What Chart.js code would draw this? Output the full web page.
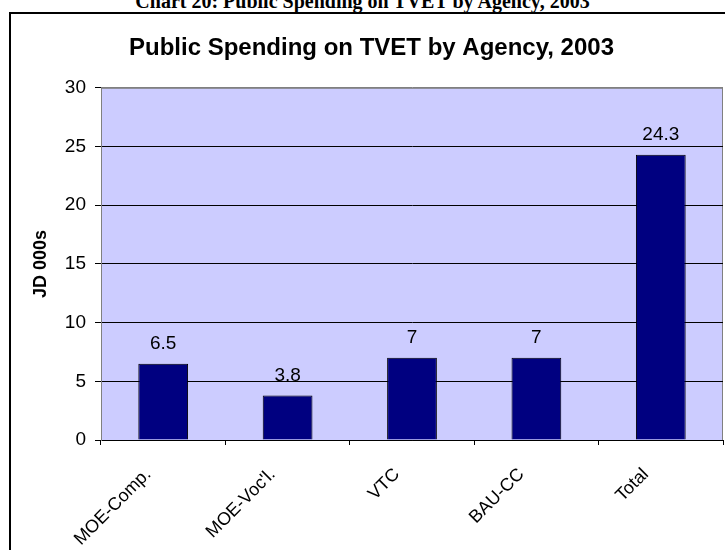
<!DOCTYPE html>
<html>
<head>
<meta charset="utf-8">
<title>Public Spending on TVET by Agency, 2003</title>
<script src="https://cdn.jsdelivr.net/npm/chart.js@4"></script>
<style>
  body { margin: 0; width: 725px; height: 550px; overflow: hidden; background: #fff; position: relative; }
  #caption { position: absolute; left: 0; top: -9px; width: 725px; text-align: center;
             font: bold 20px/20px "Liberation Serif", "Times New Roman", serif; color: #000; white-space: nowrap; }
  #frame { position: absolute; left: 9px; top: 12px; width: 800px; height: 600px; border: 2px solid #000; }
  #wrap { position: absolute; left: 0; top: 0; width: 725px; height: 550px; }
</style>
</head>
<body>
<div id="caption">Chart 20: Public Spending on TVET by Agency, 2003</div>
<div id="frame"></div>
<div id="wrap"><canvas id="spendChart"></canvas></div>
<script>
const categories = ["MOE-Comp.", "MOE-Voc'l.", "VTC", "BAU-CC", "Total"];
const spending = [6.5, 3.8, 7, 7, 24.3];
const yTicks = [0, 5, 10, 15, 20, 25, 30];

const FONT = "'Liberation Sans', Arial, sans-serif";

// lavender plot area with a grey frame, drawn under the grid
const plotArea = {
    id: "plotArea",
    beforeDraw(chart) {
        const { ctx, chartArea: a } = chart;
        ctx.save();
        ctx.fillStyle = "#CCCCFF";
        ctx.fillRect(a.left, a.top, a.width, a.height);
        ctx.strokeStyle = "#808080";
        ctx.lineWidth = 1;
        ctx.strokeRect(a.left + 0.5, a.top + 0.5, a.width - 1, a.height);
        ctx.restore();
    }
};

// value printed above each bar
const barValues = {
    id: "barValues",
    afterDatasetsDraw(chart) {
        const { ctx } = chart;
        const meta = chart.getDatasetMeta(0);
        ctx.save();
        ctx.font = "19px " + FONT;
        ctx.fillStyle = "#000";
        ctx.textAlign = "center";
        ctx.textBaseline = "middle";
        meta.data.forEach((bar, i) => {
            ctx.fillText(String(spending[i]), bar.x, bar.y - 20);
        });
        ctx.restore();
    }
};

const ctx = document.getElementById("spendChart").getContext("2d");
new Chart(ctx, {
    type: "bar",
    data: {
        labels: categories,
        datasets: [{
            data: spending,
            backgroundColor: "#000080",
            borderColor: "#000000",
            borderWidth: 1,
            barPercentage: 0.4,
            categoryPercentage: 1
        }]
    },
    options: {
        responsive: true,
        maintainAspectRatio: false,
        animation: false,
        layout: { padding: { top: 15, left: 20, right: 2, bottom: 0 } },
        plugins: {
            legend: { display: false },
            tooltip: { enabled: false },
            title: {
                display: true,
                text: "Public Spending on TVET by Agency, 2003",
                color: "#000",
                font: { family: FONT, size: 24, weight: "bold" },
                padding: { top: 19, bottom: 25 }
            }
        },
        scales: {
            x: {
                afterFit: s => { s.height = 110; },
                border: { color: "#000", width: 1 },
                grid: {
                    offset: true,
                    drawOnChartArea: false,
                    tickLength: 5,
                    tickColor: "#000"
                },
                ticks: {
                    color: "#000",
                    font: { family: FONT, size: 18 },
                    minRotation: 45,
                    maxRotation: 45,
                    autoSkip: false,
                    labelOffset: -15,
                    padding: 19
                }
            },
            y: {
                min: yTicks[0],
                max: yTicks[yTicks.length - 1],
                afterFit: s => { s.width = 81; },
                border: { color: "#808080", width: 1 },
                grid: {
                    color: c => (c.tick && c.tick.value === yTicks[yTicks.length - 1]) ? "#808080" : "#000",
                    tickColor: "#000",
                    tickLength: 6
                },
                ticks: {
                    stepSize: yTicks[1] - yTicks[0],
                    color: "#000",
                    padding: 9,
                    font: { family: FONT, size: 19 }
                },
                title: {
                    display: true,
                    text: "JD 000s",
                    color: "#000",
                    font: { family: FONT, size: 18, weight: "bold" },
                    padding: { top: 10, bottom: 0 }
                }
            }
        }
    },
    plugins: [plotArea, barValues]
});
</script>
</body>
</html>
